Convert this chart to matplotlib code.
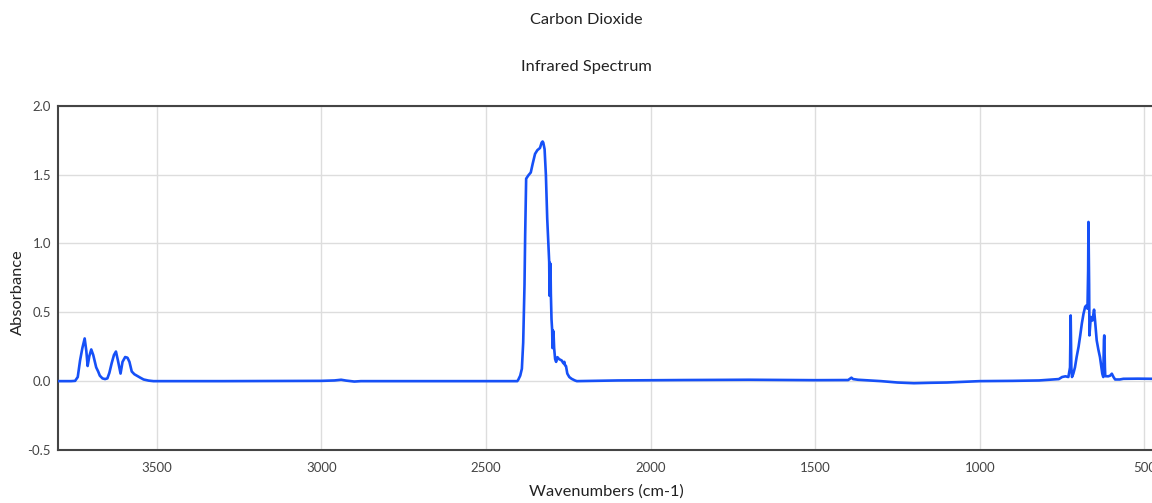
import matplotlib
matplotlib.use("Agg")
import matplotlib.pyplot as plt
from matplotlib.ticker import FixedLocator, FormatStrFormatter

plt.rcParams['font.family'] = ['Lato', 'DejaVu Sans']
plt.rcParams['axes.unicode_minus'] = False

# spectrum (wavenumber cm-1, absorbance)
wavenumbers = [
    3800, 3760, 3748, 3740, 3733, 3726, 3719, 3714, 3710, 3705, 3699, 3693,
    3688, 3684, 3678, 3673, 3665, 3657, 3650, 3644, 3637, 3630, 3624, 3618,
    3610, 3604, 3596, 3589, 3583, 3576, 3568, 3561, 3550, 3540, 3525, 3510,
    3300, 3000, 2960, 2940, 2925, 2900, 2880, 2860,
    2405, 2402, 2396, 2391, 2387, 2383, 2381, 2378, 2371, 2364, 2358, 2351,
    2344, 2336, 2331, 2328, 2326, 2322, 2318, 2314, 2309, 2308, 2307, 2306,
    2305, 2304, 2303, 2301, 2299, 2298, 2297, 2296, 2295, 2293, 2290, 2287,
    2283, 2278, 2270, 2265, 2262, 2260, 2257, 2253, 2247, 2240, 2230, 2224,
    2100, 1900, 1700, 1500, 1400, 1390, 1385, 1370, 1300, 1250, 1200, 1150,
    1100, 1000, 900, 820, 760, 750, 740, 731, 726, 724, 722, 720, 716, 711,
    706, 700, 695, 690, 685, 680, 676, 673, 671, 670, 668, 667, 665, 663,
    660, 658, 655, 653, 650, 647, 645, 640, 635, 630, 628, 625, 623, 622,
    620, 619, 610, 604, 599, 594, 589, 575, 564, 520, 477,
]
absorbance = [
    0.0, 0.0, 0.002, 0.03, 0.15, 0.24, 0.31, 0.22, 0.11, 0.18, 0.23, 0.19,
    0.14, 0.10, 0.07, 0.04, 0.02, 0.015, 0.02, 0.06, 0.13, 0.19, 0.215, 0.15,
    0.055, 0.14, 0.175, 0.17, 0.14, 0.07, 0.05, 0.04, 0.025, 0.012, 0.004, 0.0,
    0.0, 0.002, 0.005, 0.01, 0.004, -0.003, 0.0, 0.0,
    0.0, 0.01, 0.04, 0.09, 0.28, 0.7, 1.06, 1.47, 1.495, 1.515, 1.58, 1.65,
    1.677, 1.693, 1.732, 1.74, 1.732, 1.684, 1.495, 1.18, 0.93, 0.865, 0.62, 0.86,
    0.63, 0.85, 0.64, 0.45, 0.37, 0.24, 0.37, 0.25, 0.36, 0.24, 0.16, 0.14,
    0.174, 0.16, 0.15, 0.13, 0.14, 0.115, 0.11, 0.055, 0.03, 0.017, 0.005, 0.0,
    0.005, 0.008, 0.01, 0.007, 0.008, 0.025, 0.015, 0.01, 0.0, -0.01, -0.015, -0.012,
    -0.01, 0.0, 0.002, 0.005, 0.015, 0.03, 0.035, 0.03, 0.1, 0.477, 0.1, 0.03, 0.054, 0.1,
    0.174, 0.25, 0.332, 0.42, 0.49, 0.54, 0.55, 0.526, 0.8, 1.156, 0.7, 0.332, 0.4, 0.465,
    0.45, 0.44, 0.49, 0.519, 0.44, 0.35, 0.296, 0.23, 0.174, 0.09, 0.054, 0.03, 0.3, 0.332,
    0.1, 0.036, 0.035, 0.04, 0.054, 0.03, 0.012, 0.012, 0.017, 0.018, 0.017,
]

x_ticks = [3500, 3000, 2500, 2000, 1500, 1000, 500]
y_ticks = [-0.5, 0.0, 0.5, 1.0, 1.5, 2.0]

fig = plt.figure(figsize=(11.52, 5.03), dpi=100)
ax = fig.add_axes([58 / 1152, 53 / 503, 1 - 58 / 1152, (450 - 105.7) / 503])

ax.plot(wavenumbers, absorbance, color='#1650f7', lw=1.9,
        solid_joinstyle='round', solid_capstyle='round', zorder=3)

ax.set_xlim(3800, 477)
ax.set_ylim(-0.5, 2.0)
ax.xaxis.set_major_locator(FixedLocator(x_ticks))
ax.yaxis.set_major_locator(FixedLocator(y_ticks))
ax.yaxis.set_major_formatter(FormatStrFormatter('%.1f'))
ax.grid(True, color='#dddddd', lw=1)
ax.set_axisbelow(True)
ax.tick_params(length=0, labelsize=9.5, labelcolor='#444444')
ax.tick_params(axis='x', pad=9)
ax.tick_params(axis='y', pad=5)

for side in ['left', 'bottom', 'top']:
    ax.spines[side].set_color('#444444')
    ax.spines[side].set_linewidth(1.5)
ax.spines['right'].set_visible(False)

fig.text(586 / 1152, 1 - 20 / 503, 'Carbon Dioxide', ha='center', va='center',
         fontsize=11.8, color='#222222')
fig.text(586 / 1152, 1 - 67 / 503, 'Infrared Spectrum', ha='center', va='center',
         fontsize=11.8, color='#222222')
fig.text(606 / 1152, 1 - 492 / 503, 'Wavenumbers (cm-1)', ha='center', va='center',
         fontsize=11.8, color='#222222')
fig.text(18 / 1152, 1 - 292 / 503, 'Absorbance', ha='center', va='center',
         rotation=90, fontsize=11.8, color='#222222')

fig.savefig('out.png', dpi=100)
